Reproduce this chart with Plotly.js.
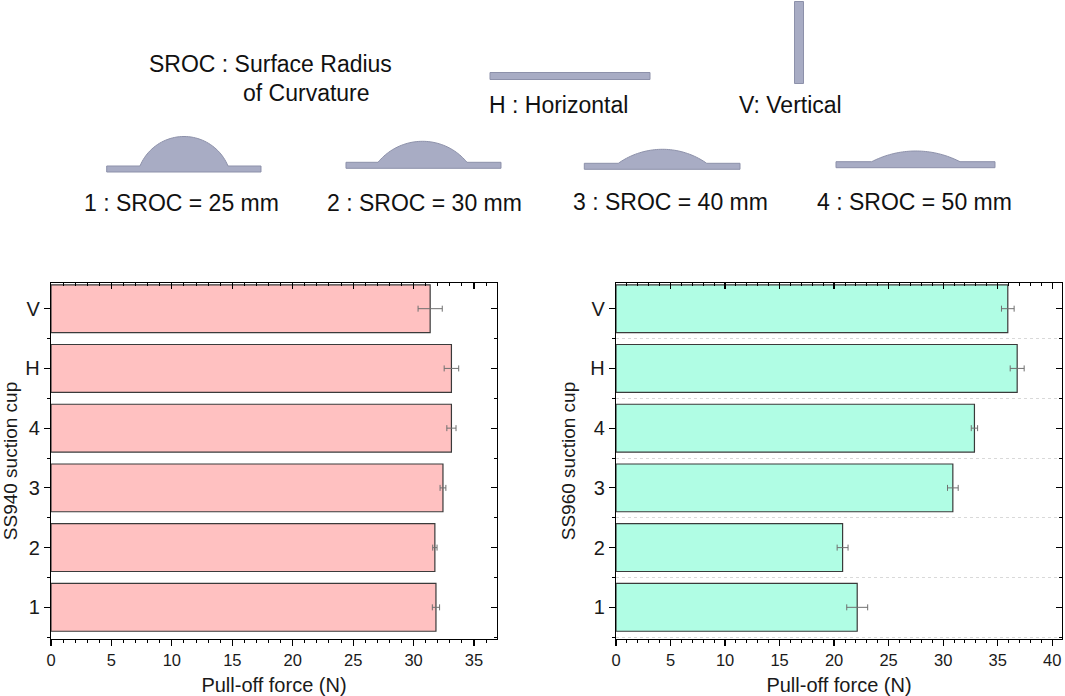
<!DOCTYPE html>
<html>
<head>
<meta charset="utf-8">
<script src="https://cdn.plot.ly/plotly-3.0.1.min.js"></script>
<style>html,body{margin:0;padding:0;background:#fff;}#chart{width:1065px;height:696px;}</style>
</head>
<body>
<div id="chart"></div>
<script>
// ---- data ----
var categories = ['1', '2', '3', '4', 'H', 'V'];
var ss940Force = [31.85, 31.76, 32.43, 33.13, 33.13, 31.37];
var ss940Err   = [0.30, 0.18, 0.24, 0.38, 0.60, 1.00];
var ss960Force = [22.12, 20.78, 30.89, 32.87, 36.79, 35.93];
var ss960Err   = [0.96, 0.50, 0.49, 0.29, 0.64, 0.58];
var xTitle = 'Pull-off force (N)';
var yTitleLeft = 'SS940 suction cup';
var yTitleRight = 'SS960 suction cup';

var W = 1065, H = 696;
var FONT = 'Liberation Sans, Arial, sans-serif';
var positions = categories.map(function (c, i) { return i + 1; });
var minorPos = [0.5].concat(positions.map(function (p) { return p + 0.5; }));

function px(x) { return x / W; }
function py(y) { return 1 - y / H; }

var traces = [
  {
    type: 'bar', orientation: 'h', x: ss940Force, y: positions, width: 0.8,
    marker: {color: '#ffc1c1', line: {color: '#3a3a3a', width: 1.2}},
    error_x: {type: 'data', array: ss940Err, visible: true, color: '#707070', thickness: 1, width: 3},
    xaxis: 'x', yaxis: 'y', hoverinfo: 'x+y', showlegend: false
  },
  {
    type: 'bar', orientation: 'h', x: ss960Force, y: positions, width: 0.8,
    marker: {color: '#b0fde4', line: {color: '#3a3a3a', width: 1.2}},
    error_x: {type: 'data', array: ss960Err, visible: true, color: '#707070', thickness: 1, width: 3},
    xaxis: 'x2', yaxis: 'y2', hoverinfo: 'x+y', showlegend: false
  }
];

var yDom = [py(639), py(283)];
var yRange = [0.47, 6.43];
var xRange1 = [0, 36.9];
var xRange2 = [0, 40.9];

function xAxisMain(dom, rng, anchor) {
  return {
    domain: dom, range: rng, anchor: anchor, tickmode: 'linear', tick0: 0, dtick: 5,
    ticks: 'outside', ticklen: 6, tickwidth: 1.2, tickcolor: '#000',
    minor: {ticks: 'outside', ticklen: 3, tickwidth: 1, dtick: 1, tick0: 0, tickcolor: '#000'},
    showline: true, linecolor: '#000', linewidth: 1.2, showgrid: false, zeroline: false,
    tickfont: {family: FONT, size: 16.5, color: '#1a1a1a'},
    title: {text: xTitle, font: {family: FONT, size: 20, color: '#1a1a1a'}, standoff: 11},
    fixedrange: true
  };
}
function xAxisTop(rng, overlay, anchor) {
  return {
    overlaying: overlay, side: 'top', anchor: anchor, range: rng, tickmode: 'linear', tick0: 0, dtick: 5,
    ticks: 'inside', ticklen: 6, tickwidth: 1.2, tickcolor: '#000',
    minor: {ticks: 'inside', ticklen: 3, tickwidth: 1, dtick: 1, tick0: 0, tickcolor: '#000'},
    showline: true, linecolor: '#000', linewidth: 1.2, showgrid: false, zeroline: false,
    showticklabels: false, fixedrange: true
  };
}
function yAxisMain(anchor, title, grid) {
  return {
    domain: yDom, range: yRange, anchor: anchor, tickmode: 'array', tickvals: positions, ticktext: categories,
    ticks: 'outside', ticklen: 6, tickwidth: 1.2, tickcolor: '#000',
    minor: {tickmode: 'array', tickvals: minorPos, ticks: 'outside', ticklen: 3, tickwidth: 1, tickcolor: '#000',
            showgrid: grid, gridcolor: '#d9d9d9', griddash: 'dot', gridwidth: 1},
    showline: true, linecolor: '#000', linewidth: 1.2, showgrid: false, zeroline: false,
    tickfont: {family: FONT, size: 20, color: '#1a1a1a'},
    title: {text: title, font: {family: FONT, size: 19, color: '#1a1a1a'}, standoff: 9},
    fixedrange: true
  };
}
function yAxisRight(overlay, anchor) {
  return {
    overlaying: overlay, side: 'right', anchor: anchor, range: yRange, tickmode: 'array', tickvals: positions,
    ticks: 'inside', ticklen: 6, tickwidth: 1.2, tickcolor: '#000',
    minor: {tickmode: 'array', tickvals: minorPos, ticks: 'inside', ticklen: 3, tickwidth: 1, tickcolor: '#000'},
    showline: true, linecolor: '#000', linewidth: 1.2, showgrid: false, zeroline: false,
    showticklabels: false, fixedrange: true
  };
}

// overlay dummies so the mirrored axes are drawn
traces.push({type: 'scatter', x: [null], y: [null], xaxis: 'x3', yaxis: 'y', showlegend: false, hoverinfo: 'skip'});
traces.push({type: 'scatter', x: [null], y: [null], xaxis: 'x', yaxis: 'y3', showlegend: false, hoverinfo: 'skip'});
traces.push({type: 'scatter', x: [null], y: [null], xaxis: 'x4', yaxis: 'y2', showlegend: false, hoverinfo: 'skip'});
traces.push({type: 'scatter', x: [null], y: [null], xaxis: 'x2', yaxis: 'y4', showlegend: false, hoverinfo: 'skip'});

// ---- illustration (decorative shapes) ----
var FILL = '#a8acc4', EDGE = '#8d91aa';
var shapes = [];
function P(x, y) { return px(x).toFixed(5) + ',' + py(y).toFixed(5); }
function rectPx(x0, y0, x1, y1) {
  shapes.push({type: 'rect', xref: 'paper', yref: 'paper', x0: px(x0), x1: px(x1), y0: py(y1), y1: py(y0),
    fillcolor: FILL, line: {color: EDGE, width: 1}, layer: 'above'});
}
// plate (x0..x1, y0 top .. y1 bottom) with a circular dome from xa..xb rising to yTop
function domePlatePx(x0, y0, x1, y1, xa, xb, yTop) {
  var c = (xb - xa) / 2, h = y0 - yTop;
  var R = (c * c + h * h) / (2 * h);
  var cx = (xa + xb) / 2, cy = yTop + R;
  var a0 = Math.asin(c / R);
  var n = 48;
  var d = 'M' + P(x0, y1) + 'L' + P(x0, y0);
  for (var i = 0; i <= n; i++) {
    var a = -a0 + 2 * a0 * i / n;
    d += 'L' + P(cx + R * Math.sin(a), cy - R * Math.cos(a));
  }
  d += 'L' + P(x1, y0) + 'L' + P(x1, y1) + 'Z';
  shapes.push({type: 'path', xref: 'paper', yref: 'paper', path: d, fillcolor: FILL, line: {color: EDGE, width: 1}, layer: 'above'});
}
// horizontal and vertical plates
rectPx(490, 72.5, 650, 79.5);
rectPx(794.5, 1.5, 803.5, 83.5);
// curved plates 1..4
domePlatePx(106.7, 166, 261, 172, 140, 228, 136.5);
domePlatePx(346, 162.3, 501, 168.3, 378, 467, 141.3);
domePlatePx(584.3, 163.3, 740, 169.3, 618.3, 706.7, 149.3);
domePlatePx(836, 161.7, 995, 167.7, 871.7, 960, 151);

var annotations = [];
function textPx(t, xl, yc) {
  annotations.push({text: t, xref: 'paper', yref: 'paper', x: px(xl), y: py(yc), xanchor: 'left', yanchor: 'middle',
    showarrow: false, font: {family: FONT, size: 23, color: '#111'}});
}
textPx('SROC : Surface Radius', 147, 64);
textPx('of Curvature', 241, 93);
textPx('H : Horizontal', 487, 105);
textPx('V: Vertical', 737, 105);
textPx('1 : SROC = 25 mm', 82, 203);
textPx('2 : SROC = 30 mm', 325, 203);
textPx('3 : SROC = 40 mm', 571, 202);
textPx('4 : SROC = 50 mm', 815, 202);

var layout = {
  width: W, height: H, margin: {l: 0, r: 0, t: 0, b: 0},
  paper_bgcolor: '#fff', plot_bgcolor: '#fff', showlegend: false, bargap: 0.2,
  xaxis: xAxisMain([px(51), px(497)], xRange1, 'y'),
  yaxis: yAxisMain('x', yTitleLeft, false),
  xaxis2: xAxisMain([px(616), px(1062)], xRange2, 'y2'),
  yaxis2: yAxisMain('x2', yTitleRight, true),
  xaxis3: xAxisTop(xRange1, 'x', 'y'),
  yaxis3: yAxisRight('y', 'x'),
  xaxis4: xAxisTop(xRange2, 'x2', 'y2'),
  yaxis4: yAxisRight('y2', 'x2'),
  shapes: shapes, annotations: annotations
};

Plotly.newPlot('chart', traces, layout, {displayModeBar: false, staticPlot: true});
</script>
</body>
</html>
